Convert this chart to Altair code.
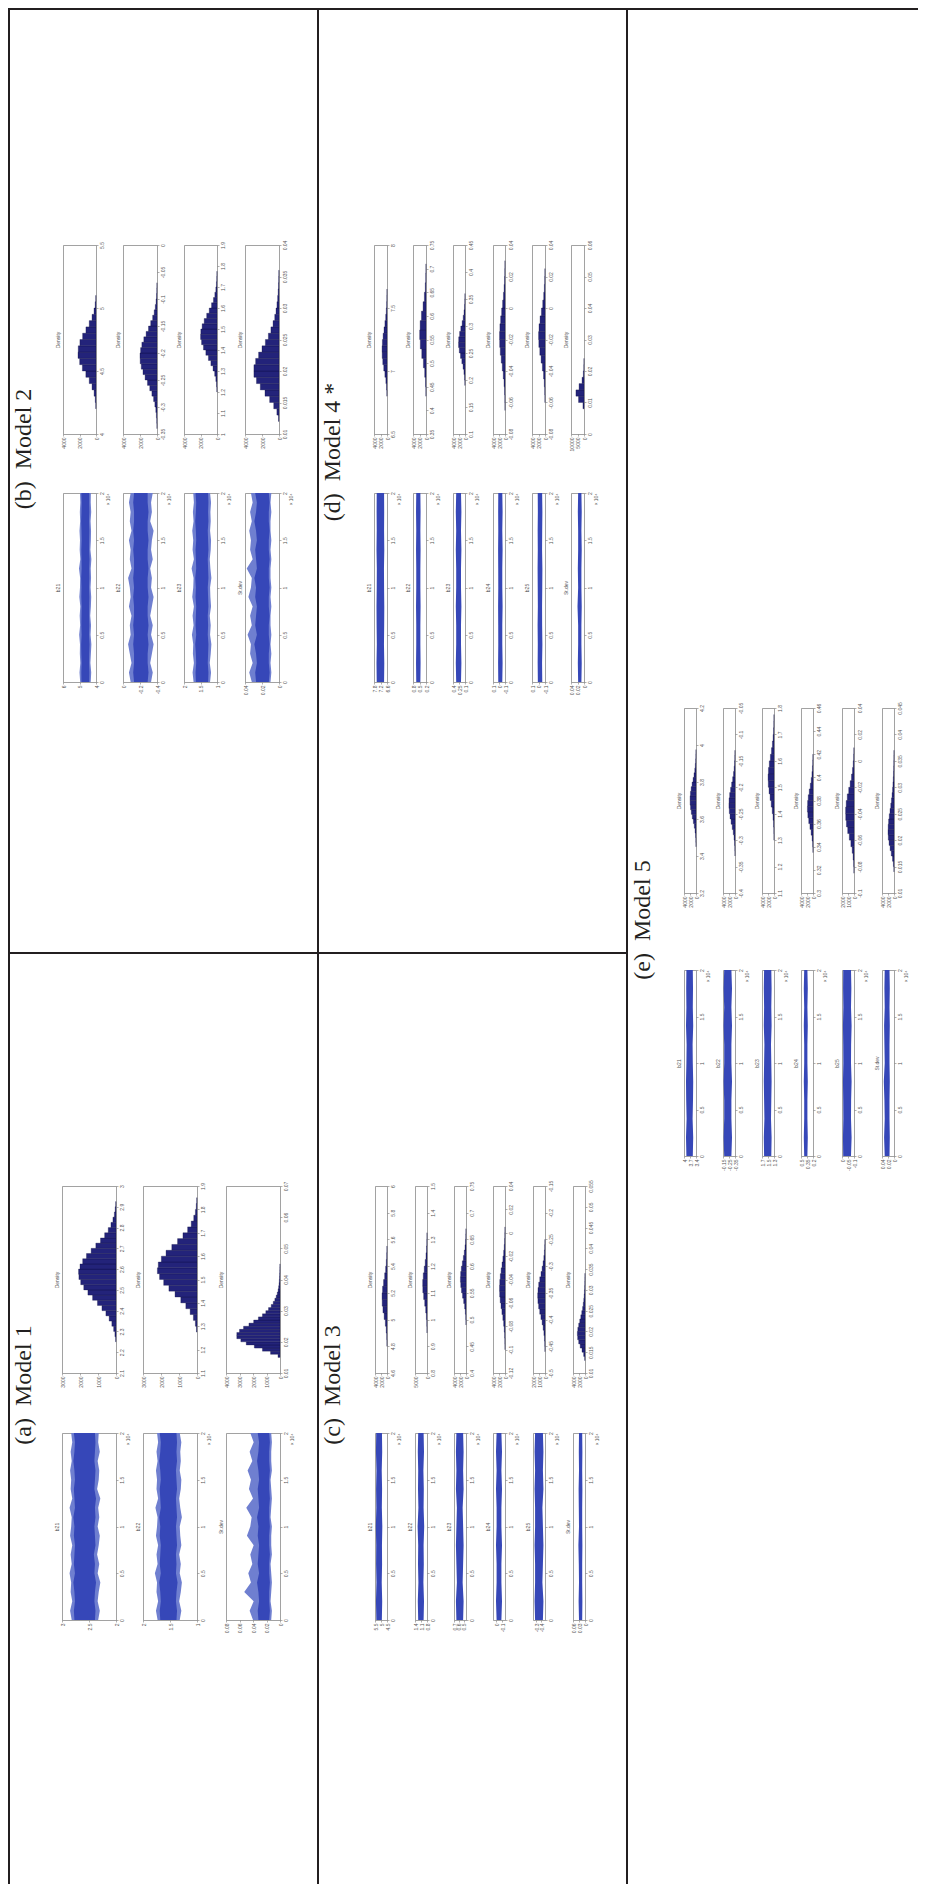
import altair as alt
import pandas as pd

OX, OY = 8, 8
W, H = 910, 1876

HIST_FILL = "#23237a"
HIST_EDGE = "#0b0b3a"
TRACE_IN = "#3647b8"
TRACE_OUT = "#6f7fd0"
LINE = "#231f20"

ITER21 = [0, 1000, 2000, 3000, 4000, 5000, 6000, 7000, 8000, 9000, 10000,
          11000, 12000, 13000, 14000, 15000, 16000, 17000, 18000, 19000, 20000]
ITER11 = [0, 2000, 4000, 6000, 8000, 10000, 12000, 14000, 16000, 18000, 20000]
ITER_TICKS = [0, 5000, 10000, 15000, 20000]

# ---------------- Model 1 ----------------
M1_B21_CNT = [20, 60, 130, 230, 380, 560, 780, 1030, 1300, 1560, 1790, 1960, 2060, 2080,
              2000, 1850, 1640, 1380, 1120, 860, 630, 430, 280, 170, 90, 45, 15]
M1_B22_CNT = [30, 90, 200, 380, 620, 900, 1220, 1560, 1850, 2080, 2200, 2150, 1980, 1720,
              1400, 1080, 780, 520, 320, 180, 90, 40, 15]
M1_SD_CNT = [150, 700, 1300, 1900, 2500, 2900, 3200, 3200, 3000, 2700, 2300, 1950, 1600, 1300,
             1050, 850, 650, 500, 380, 280, 200, 140, 100, 70, 50, 35, 25, 15, 10, 5]

M1_B21_LO_OUT = [2.33, 2.30, 2.34, 2.32, 2.29, 2.34, 2.31, 2.35, 2.32, 2.30, 2.34, 2.31, 2.33, 2.29, 2.35, 2.32, 2.31, 2.34, 2.30, 2.33, 2.32]
M1_B21_LO_IN = [2.39, 2.38, 2.40, 2.39, 2.37, 2.40, 2.39, 2.41, 2.38, 2.39, 2.40, 2.38, 2.39, 2.37, 2.40, 2.39, 2.38, 2.40, 2.39, 2.38, 2.39]
M1_B21_HI_IN = [2.77, 2.78, 2.76, 2.77, 2.79, 2.76, 2.78, 2.77, 2.76, 2.78, 2.77, 2.79, 2.76, 2.77, 2.78, 2.76, 2.77, 2.79, 2.77, 2.76, 2.78]
M1_B21_HI_OUT = [2.82, 2.85, 2.81, 2.84, 2.83, 2.86, 2.82, 2.84, 2.81, 2.85, 2.83, 2.82, 2.86, 2.81, 2.84, 2.83, 2.85, 2.82, 2.84, 2.81, 2.83]

M1_B22_LO_OUT = [1.32, 1.29, 1.33, 1.30, 1.28, 1.32, 1.30, 1.33, 1.29, 1.31, 1.32, 1.28, 1.31, 1.33, 1.30, 1.29, 1.32, 1.30, 1.31, 1.29, 1.32]
M1_B22_LO_IN = [1.38, 1.37, 1.39, 1.38, 1.36, 1.39, 1.38, 1.39, 1.37, 1.38, 1.39, 1.37, 1.38, 1.39, 1.37, 1.38, 1.39, 1.37, 1.38, 1.37, 1.38]
M1_B22_HI_IN = [1.68, 1.69, 1.67, 1.68, 1.70, 1.67, 1.69, 1.68, 1.67, 1.69, 1.68, 1.70, 1.67, 1.68, 1.69, 1.67, 1.68, 1.70, 1.68, 1.67, 1.69]
M1_B22_HI_OUT = [1.73, 1.76, 1.72, 1.75, 1.74, 1.78, 1.73, 1.75, 1.72, 1.76, 1.74, 1.73, 1.77, 1.72, 1.75, 1.74, 1.76, 1.73, 1.75, 1.72, 1.74]

M1_SD_LO_OUT = [0.013, 0.012, 0.014, 0.013, 0.012, 0.013, 0.014, 0.012, 0.013, 0.013, 0.012, 0.014, 0.013, 0.012, 0.013, 0.014, 0.012, 0.013, 0.013, 0.012, 0.013]
M1_SD_LO_IN = [0.016, 0.015, 0.016, 0.016, 0.015, 0.016, 0.016, 0.015, 0.016, 0.016, 0.015, 0.016, 0.016, 0.015, 0.016, 0.016, 0.015, 0.016, 0.016, 0.015, 0.016]
M1_SD_HI_IN = [0.032, 0.033, 0.031, 0.032, 0.034, 0.031, 0.033, 0.032, 0.031, 0.033, 0.032, 0.034, 0.031, 0.032, 0.033, 0.031, 0.032, 0.034, 0.032, 0.031, 0.033]
M1_SD_HI_OUT = [0.040, 0.045, 0.039, 0.053, 0.043, 0.047, 0.041, 0.044, 0.039, 0.049, 0.044, 0.042, 0.050, 0.040, 0.046, 0.043, 0.048, 0.041, 0.045, 0.039, 0.044]

# ---------------- Model 2 ----------------
M2_B21_CNT = [30, 90, 230, 480, 820, 1230, 1650, 1980, 2180, 2150, 1950, 1620, 1220, 820, 480, 240, 100, 30]
M2_B22_CNT = [10, 30, 70, 140, 250, 400, 600, 850, 1120, 1400, 1650, 1850, 1980, 2000, 1930, 1780,
              1550, 1280, 1000, 740, 510, 330, 200, 110, 55, 25, 10]
M2_B23_CNT = [20, 60, 140, 280, 480, 740, 1040, 1350, 1640, 1870, 1990, 1960, 1800, 1550, 1250,
              940, 660, 430, 260, 140, 70, 30, 10]
M2_SD_CNT = [60, 250, 620, 1100, 1650, 2200, 2650, 2950, 2950, 2750, 2400, 2000, 1600, 1250, 950,
             700, 500, 350, 240, 160, 100, 60, 35, 20]

M2_B21_LO_OUT = [4.32, 4.29, 4.34, 4.31, 4.28, 4.33, 4.30, 4.35, 4.31, 4.29, 4.33, 4.30, 4.32, 4.28, 4.34, 4.31, 4.30, 4.33, 4.29, 4.32, 4.31]
M2_B21_LO_IN = [4.41, 4.40, 4.42, 4.41, 4.39, 4.42, 4.40, 4.42, 4.41, 4.40, 4.42, 4.40, 4.41, 4.39, 4.42, 4.41, 4.40, 4.42, 4.40, 4.41, 4.41]
M2_B21_HI_IN = [4.88, 4.89, 4.87, 4.89, 4.90, 4.87, 4.89, 4.88, 4.87, 4.89, 4.88, 4.90, 4.87, 4.88, 4.89, 4.87, 4.88, 4.90, 4.88, 4.87, 4.89]
M2_B21_HI_OUT = [4.96, 5.00, 4.95, 4.98, 4.97, 5.02, 4.96, 4.99, 4.95, 5.01, 4.97, 4.96, 5.03, 4.95, 4.99, 4.97, 5.00, 4.96, 4.98, 4.95, 4.97]

M2_B22_LO_OUT = [-0.33, -0.35, -0.32, -0.34, -0.36, -0.33, -0.35, -0.32, -0.34, -0.36, -0.33, -0.34, -0.32, -0.35, -0.33, -0.34, -0.36, -0.32, -0.34, -0.33, -0.35]
M2_B22_LO_IN = [-0.29, -0.30, -0.29, -0.29, -0.30, -0.29, -0.30, -0.29, -0.29, -0.30, -0.29, -0.29, -0.30, -0.29, -0.29, -0.30, -0.29, -0.29, -0.30, -0.29, -0.29]
M2_B22_HI_IN = [-0.13, -0.12, -0.13, -0.13, -0.12, -0.13, -0.12, -0.13, -0.13, -0.12, -0.13, -0.12, -0.13, -0.13, -0.12, -0.13, -0.12, -0.13, -0.13, -0.12, -0.13]
M2_B22_HI_OUT = [-0.09, -0.07, -0.10, -0.08, -0.06, -0.09, -0.08, -0.10, -0.07, -0.09, -0.08, -0.06, -0.10, -0.08, -0.09, -0.07, -0.10, -0.08, -0.09, -0.07, -0.09]

M2_B23_LO_OUT = [1.21, 1.18, 1.22, 1.19, 1.17, 1.21, 1.19, 1.22, 1.18, 1.20, 1.21, 1.17, 1.20, 1.22, 1.19, 1.18, 1.21, 1.19, 1.20, 1.18, 1.21]
M2_B23_LO_IN = [1.27, 1.26, 1.28, 1.27, 1.26, 1.28, 1.27, 1.28, 1.26, 1.27, 1.28, 1.26, 1.27, 1.28, 1.26, 1.27, 1.28, 1.26, 1.27, 1.26, 1.27]
M2_B23_HI_IN = [1.64, 1.65, 1.63, 1.64, 1.66, 1.63, 1.65, 1.64, 1.63, 1.65, 1.64, 1.66, 1.63, 1.64, 1.65, 1.63, 1.64, 1.66, 1.64, 1.63, 1.65]
M2_B23_HI_OUT = [1.71, 1.74, 1.70, 1.73, 1.72, 1.76, 1.71, 1.74, 1.70, 1.75, 1.72, 1.71, 1.77, 1.70, 1.74, 1.72, 1.75, 1.71, 1.73, 1.70, 1.72]

M2_SD_LO_OUT = [0.010, 0.009, 0.010, 0.009, 0.010, 0.009, 0.010, 0.010, 0.009, 0.010, 0.009, 0.010, 0.010, 0.009, 0.010, 0.009, 0.010, 0.010, 0.009, 0.010, 0.009]
M2_SD_LO_IN = [0.012, 0.011, 0.012, 0.012, 0.011, 0.012, 0.012, 0.011, 0.012, 0.012, 0.011, 0.012, 0.012, 0.011, 0.012, 0.012, 0.011, 0.012, 0.012, 0.011, 0.012]
M2_SD_HI_IN = [0.027, 0.028, 0.026, 0.027, 0.029, 0.026, 0.028, 0.027, 0.026, 0.028, 0.027, 0.029, 0.026, 0.027, 0.028, 0.026, 0.027, 0.029, 0.027, 0.026, 0.028]
M2_SD_HI_OUT = [0.032, 0.035, 0.031, 0.034, 0.033, 0.037, 0.032, 0.034, 0.031, 0.036, 0.033, 0.032, 0.038, 0.031, 0.034, 0.033, 0.035, 0.032, 0.034, 0.031, 0.033]

# ---------------- Model 3 ----------------
M3_B21_CNT = [30, 100, 260, 550, 950, 1350, 1600, 1650, 1480, 1150, 780, 460, 230, 100, 35]
M3_B22_CNT = [30, 100, 260, 550, 950, 1400, 1750, 1800, 1550, 1150, 750, 420, 200, 80, 25]
M3_B23_CNT = [30, 90, 220, 450, 780, 1150, 1500, 1750, 1850, 1780, 1550, 1220, 880, 570, 330, 170, 75, 30]
M3_B24_CNT = [20, 50, 120, 250, 450, 720, 1030, 1340, 1600, 1780, 1830, 1750, 1560, 1290, 990, 700, 450, 260, 140, 65, 25]
M3_B25_CNT = [15, 40, 90, 180, 310, 480, 680, 880, 1060, 1180, 1220, 1170, 1050, 870, 670, 480, 320, 190, 100, 50, 20]
M3_SD_CNT = [100, 450, 1000, 1600, 2100, 2450, 2550, 2400, 2100, 1750, 1400, 1080, 800, 580, 410, 280, 190, 120, 75, 45, 25]

M3_B21_LO = [4.93, 4.90, 4.94, 4.91, 4.92, 4.89, 4.93, 4.91, 4.94, 4.90, 4.92]
M3_B21_HI = [5.39, 5.42, 5.38, 5.41, 5.40, 5.43, 5.39, 5.41, 5.38, 5.42, 5.40]
M3_B22_LO = [0.97, 0.95, 0.98, 0.96, 0.97, 0.94, 0.97, 0.96, 0.98, 0.95, 0.97]
M3_B22_HI = [1.24, 1.26, 1.23, 1.25, 1.24, 1.27, 1.23, 1.25, 1.24, 1.26, 1.24]
M3_B23_LO = [0.51, 0.50, 0.52, 0.51, 0.50, 0.51, 0.52, 0.50, 0.51, 0.50, 0.51]
M3_B23_HI = [0.65, 0.66, 0.64, 0.65, 0.66, 0.65, 0.64, 0.66, 0.65, 0.66, 0.65]
M3_B24_LO = [-0.09, -0.10, -0.09, -0.09, -0.10, -0.09, -0.09, -0.10, -0.09, -0.10, -0.09]
M3_B24_HI = [-0.01, 0.00, -0.01, -0.01, 0.00, -0.01, -0.01, 0.00, -0.01, 0.00, -0.01]
M3_B25_LO = [-0.43, -0.44, -0.42, -0.43, -0.44, -0.43, -0.42, -0.44, -0.43, -0.44, -0.43]
M3_B25_HI = [-0.28, -0.27, -0.28, -0.28, -0.27, -0.28, -0.28, -0.27, -0.28, -0.27, -0.28]
M3_SD_LO = [0.014, 0.013, 0.014, 0.014, 0.013, 0.014, 0.014, 0.013, 0.014, 0.013, 0.014]
M3_SD_HI = [0.030, 0.032, 0.030, 0.031, 0.033, 0.030, 0.031, 0.032, 0.030, 0.031, 0.030]

# ---------------- Model 4 ----------------
M4_B21_CNT = [50, 150, 350, 650, 1000, 1300, 1480, 1520, 1420, 1200, 920, 640, 400, 220, 110, 50, 20]
M4_B22_CNT = [40, 150, 400, 800, 1300, 1750, 1950, 1800, 1400, 900, 500, 220, 80, 25]
M4_B23_CNT = [50, 150, 350, 650, 1050, 1500, 1900, 2150, 2100, 1800, 1400, 950, 600, 330, 160, 70, 25]
M4_B24_CNT = [20, 60, 150, 320, 580, 900, 1250, 1560, 1780, 1820, 1700, 1450, 1120, 800, 520, 300, 160, 75, 30]
M4_B25_CNT = [30, 90, 220, 450, 800, 1200, 1600, 1900, 1980, 1850, 1520, 1100, 700, 400, 200, 90, 35]
M4_SD_CNT = [800, 4200, 6200, 3800, 1500, 500, 150, 40]

M4_B21_LO = [6.87, 6.85, 6.88, 6.86, 6.85, 6.87, 6.88, 6.85, 6.87, 6.86, 6.87]
M4_B21_HI = [7.55, 7.57, 7.54, 7.56, 7.57, 7.55, 7.54, 7.57, 7.55, 7.56, 7.55]
M4_B22_LO = [0.46, 0.45, 0.46, 0.46, 0.45, 0.46, 0.46, 0.45, 0.46, 0.45, 0.46]
M4_B22_HI = [0.65, 0.66, 0.65, 0.65, 0.66, 0.65, 0.65, 0.66, 0.65, 0.66, 0.65]
M4_B23_LO = [0.20, 0.19, 0.20, 0.20, 0.19, 0.20, 0.20, 0.19, 0.20, 0.19, 0.20]
M4_B23_HI = [0.32, 0.33, 0.32, 0.32, 0.33, 0.32, 0.32, 0.33, 0.32, 0.33, 0.32]
M4_B24_LO = [-0.055, -0.060, -0.055, -0.055, -0.060, -0.055, -0.055, -0.060, -0.055, -0.060, -0.055]
M4_B24_HI = [0.012, 0.015, 0.012, 0.013, 0.015, 0.012, 0.013, 0.015, 0.012, 0.014, 0.012]
M4_B25_LO = [-0.058, -0.055, -0.060, -0.056, -0.055, -0.058, -0.060, -0.055, -0.057, -0.060, -0.056]
M4_B25_HI = [0.010, 0.013, 0.011, 0.014, 0.010, 0.012, 0.014, 0.011, 0.013, 0.010, 0.012]
M4_SD_LO = [0.008, 0.007, 0.008, 0.008, 0.007, 0.008, 0.008, 0.007, 0.008, 0.007, 0.008]
M4_SD_HI = [0.018, 0.019, 0.018, 0.018, 0.020, 0.018, 0.019, 0.018, 0.018, 0.019, 0.018]

# ---------------- Model 5 ----------------
M5_B21_CNT = [20, 60, 150, 310, 560, 880, 1230, 1560, 1820, 1960, 1970, 1850, 1610, 1300, 970, 660, 410, 230, 115, 50, 20]
M5_B22_CNT = [20, 60, 150, 320, 580, 920, 1300, 1650, 1900, 2020, 1980, 1780, 1470, 1120, 780, 500, 290, 150, 70, 28]
M5_B23_CNT = [20, 60, 150, 320, 580, 920, 1300, 1650, 1900, 1980, 1850, 1570, 1200, 840, 530, 300, 150, 65, 25]
M5_B24_CNT = [30, 110, 300, 620, 1020, 1420, 1720, 1860, 1800, 1580, 1250, 900, 590, 350, 190, 90, 40]
M5_B25_CNT = [20, 60, 150, 300, 520, 780, 1050, 1260, 1380, 1400, 1300, 1120, 880, 640, 420, 250, 130, 60, 25]
M5_SD_CNT = [40, 200, 500, 900, 1300, 1650, 1900, 2000, 1950, 1800, 1580, 1330, 1080, 850, 650, 480, 350, 250, 170, 110, 70, 40, 20]

M5_B21_LO = [3.56, 3.54, 3.57, 3.55, 3.54, 3.56, 3.57, 3.54, 3.56, 3.55, 3.56]
M5_B21_HI = [3.88, 3.90, 3.87, 3.89, 3.90, 3.88, 3.87, 3.90, 3.88, 3.89, 3.88]
M5_B22_LO = [-0.29, -0.30, -0.29, -0.29, -0.30, -0.29, -0.29, -0.30, -0.29, -0.30, -0.29]
M5_B22_HI = [-0.17, -0.16, -0.17, -0.17, -0.16, -0.17, -0.17, -0.16, -0.17, -0.16, -0.17]
M5_B23_LO = [1.39, 1.38, 1.40, 1.39, 1.38, 1.39, 1.40, 1.38, 1.39, 1.38, 1.39]
M5_B23_HI = [1.63, 1.64, 1.62, 1.63, 1.64, 1.63, 1.62, 1.64, 1.63, 1.64, 1.63]
M5_B24_LO = [0.34, 0.33, 0.34, 0.34, 0.33, 0.34, 0.34, 0.33, 0.34, 0.33, 0.34]
M5_B24_HI = [0.42, 0.43, 0.42, 0.42, 0.43, 0.42, 0.42, 0.43, 0.42, 0.43, 0.42]
M5_B25_LO = [-0.075, -0.080, -0.075, -0.076, -0.080, -0.075, -0.076, -0.080, -0.075, -0.078, -0.075]
M5_B25_HI = [-0.010, -0.008, -0.011, -0.010, -0.008, -0.011, -0.010, -0.008, -0.011, -0.009, -0.010]
M5_SD_LO = [0.015, 0.014, 0.015, 0.015, 0.014, 0.015, 0.015, 0.014, 0.015, 0.014, 0.015]
M5_SD_HI = [0.031, 0.033, 0.031, 0.032, 0.034, 0.031, 0.032, 0.033, 0.031, 0.032, 0.031]

MODEL_LABELS = ["(a)\u00a0\u00a0Model\u00a01", "(b)\u00a0\u00a0Model\u00a02", "(c)\u00a0\u00a0Model\u00a03",
                "(d)\u00a0\u00a0Model\u00a04\u00a0*", "(e)\u00a0\u00a0Model\u00a05"]

ONE = pd.DataFrame({"k": [0]})
NUM = "'' + datum.value"


def hist_layers(bx, by, xdom, xticks, ydom, yticks, start, step, counts):
    x0, x1 = bx
    y0, y1 = by
    lo = [start + i * step for i in range(len(counts))]
    df = pd.DataFrame({"lo": lo, "hi": [v + step for v in lo], "n": counts})

    def xs():
        return alt.Scale(domain=xdom, range=[x1 - OX, x0 - OX], nice=False, zero=False)

    def ys():
        return alt.Scale(domain=ydom, range=[y1 - OY, y0 - OY], nice=False, zero=False)

    bars = alt.Chart(df).mark_rect(fill=HIST_FILL, stroke=HIST_EDGE, strokeWidth=0.3).encode(
        x=alt.X("n:Q", scale=xs(), axis=alt.Axis(orient="bottom", offset=(y1 - OY) - H, values=xticks,
                                                 labelExpr=NUM, labelAngle=270, labelAlign="right",
                                                 labelBaseline="middle", title=None)),
        x2=alt.datum(0),
        y=alt.Y("lo:Q", scale=ys(), axis=alt.Axis(orient="right", offset=(x1 - OX) - W, values=yticks,
                                                  labelExpr=NUM, labelAngle=270, labelAlign="center",
                                                  labelBaseline="top", title=None)),
        y2="hi:Q",
    )
    frame = alt.Chart(df).mark_point(opacity=0).encode(
        x=alt.X("n:Q", scale=xs(), axis=alt.Axis(orient="top", offset=-(y0 - OY), labels=False,
                                                 ticks=False, title=None)),
        y=alt.Y("lo:Q", scale=ys(), axis=alt.Axis(orient="left", offset=-(x0 - OX), labels=False,
                                                  ticks=False, title="Density")),
    )
    return [bars, frame]


def trace_layers(title, bx, by, xdom, xticks, iters, lo_in, hi_in, lo_out=None, hi_out=None):
    x0, x1 = bx
    y0, y1 = by
    data = {"it": iters, "li": lo_in, "hi": hi_in}
    if lo_out is not None:
        data["lo2"] = lo_out
        data["hi2"] = hi_out
    df = pd.DataFrame(data)

    def xs():
        return alt.Scale(domain=xdom, range=[x1 - OX, x0 - OX], nice=False, zero=False)

    def ys():
        return alt.Scale(domain=[0, 20000], range=[y1 - OY, y0 - OY], nice=False, zero=False)

    ax_x = alt.Axis(orient="bottom", offset=(y1 - OY) - H, values=xticks, labelExpr=NUM, labelAngle=270,
                    labelAlign="right", labelBaseline="middle", title=None)
    ax_y = alt.Axis(orient="right", offset=(x1 - OX) - W, values=ITER_TICKS,
                    labelExpr="'' + datum.value / 10000", labelAngle=270, labelAlign="center",
                    labelBaseline="top", title="\u00d7\u200910\u2074", titleAngle=270, titleAnchor="end",
                    titleBaseline="top", titlePadding=1)
    layers = []
    if lo_out is not None:
        layers.append(alt.Chart(df).mark_area(orient="horizontal", color=TRACE_OUT).encode(
            x=alt.X("lo2:Q", scale=xs(), axis=ax_x), x2="hi2:Q",
            y=alt.Y("it:Q", scale=ys(), axis=ax_y)))
        layers.append(alt.Chart(df).mark_area(orient="horizontal", color=TRACE_IN).encode(
            x=alt.X("li:Q", scale=xs(), axis=None), x2="hi:Q",
            y=alt.Y("it:Q", scale=ys(), axis=None)))
    else:
        layers.append(alt.Chart(df).mark_area(orient="horizontal", color=TRACE_IN).encode(
            x=alt.X("li:Q", scale=xs(), axis=ax_x), x2="hi:Q",
            y=alt.Y("it:Q", scale=ys(), axis=ax_y)))
    layers.append(alt.Chart(df).mark_point(opacity=0).encode(
        x=alt.X("li:Q", scale=xs(), axis=alt.Axis(orient="top", offset=-(y0 - OY), labels=False,
                                                  ticks=False, title=None)),
        y=alt.Y("it:Q", scale=ys(), axis=alt.Axis(orient="left", offset=-(x0 - OX), labels=False,
                                                  ticks=False, title=title))))
    return layers


def label(text, x, y):
    return alt.Chart(ONE).mark_text(text=text, angle=270, font="Liberation Serif", fontSize=24,
                                    align="center", baseline="alphabetic", color=LINE).encode(
        x=alt.value(x - OX), y=alt.value(y - OY))


def vrule(x, ya, yb):
    return alt.Chart(ONE).mark_rule(color=LINE, strokeWidth=2).encode(
        x=alt.value(x - OX), y=alt.value(ya - OY), y2=alt.value(yb - OY))


def hrule(y, xa, xb):
    return alt.Chart(ONE).mark_rule(color=LINE, strokeWidth=2).encode(
        y=alt.value(y - OY), x=alt.value(xa - OX), x2=alt.value(xb - OX))


layers = []

# table lines
layers += [hrule(9, 8, 918), vrule(9, 8, 1884), vrule(318, 8, 1884), vrule(627, 8, 1884), hrule(953, 8, 627)]

# ---- Model 1 (bottom-left cell) ----
M1_X = [(62, 116), (143, 197), (226, 280)]
M1_HY = (1186, 1373)
M1_TY = (1433, 1620)
layers += hist_layers(M1_X[0], M1_HY, [0, 3000], [0, 1000, 2000, 3000], [2.1, 3.0],
                      [2.1, 2.2, 2.3, 2.4, 2.5, 2.6, 2.7, 2.8, 2.9, 3.0], 2.25, 0.025, M1_B21_CNT)
layers += hist_layers(M1_X[1], M1_HY, [0, 3000], [0, 1000, 2000, 3000], [1.1, 1.9],
                      [1.1, 1.2, 1.3, 1.4, 1.5, 1.6, 1.7, 1.8, 1.9], 1.275, 0.025, M1_B22_CNT)
layers += hist_layers(M1_X[2], M1_HY, [0, 4000], [0, 1000, 2000, 3000, 4000], [0.01, 0.07],
                      [0.01, 0.02, 0.03, 0.04, 0.05, 0.06, 0.07], 0.015, 0.001, M1_SD_CNT)
layers += trace_layers("b21", M1_X[0], M1_TY, [2, 3], [2, 2.5, 3], ITER21,
                       M1_B21_LO_IN, M1_B21_HI_IN, M1_B21_LO_OUT, M1_B21_HI_OUT)
layers += trace_layers("b22", M1_X[1], M1_TY, [1, 2], [1, 1.5, 2], ITER21,
                       M1_B22_LO_IN, M1_B22_HI_IN, M1_B22_LO_OUT, M1_B22_HI_OUT)
layers += trace_layers("St.dev", M1_X[2], M1_TY, [0, 0.08], [0, 0.02, 0.04, 0.06, 0.08], ITER21,
                       M1_SD_LO_IN, M1_SD_HI_IN, M1_SD_LO_OUT, M1_SD_HI_OUT)
layers.append(label(MODEL_LABELS[0], 31, 1385))

# ---- Model 2 (top-left cell) ----
M2_X = [(63, 96), (123, 157), (184, 217), (245, 279)]
M2_HY = (245, 434)
M2_TY = (493, 682)
layers += hist_layers(M2_X[0], M2_HY, [0, 4000], [0, 2000, 4000], [4, 5.5], [4, 4.5, 5, 5.5],
                      4.2, 0.05, M2_B21_CNT)
layers += hist_layers(M2_X[1], M2_HY, [0, 4000], [0, 2000, 4000], [-0.35, 0],
                      [-0.35, -0.3, -0.25, -0.2, -0.15, -0.1, -0.05, 0], -0.34, 0.01, M2_B22_CNT)
layers += hist_layers(M2_X[2], M2_HY, [0, 4000], [0, 2000, 4000], [1, 1.9],
                      [1, 1.1, 1.2, 1.3, 1.4, 1.5, 1.6, 1.7, 1.8, 1.9], 1.2, 0.025, M2_B23_CNT)
layers += hist_layers(M2_X[3], M2_HY, [0, 4000], [0, 2000, 4000], [0.01, 0.04],
                      [0.01, 0.015, 0.02, 0.025, 0.03, 0.035, 0.04], 0.012, 0.001, M2_SD_CNT)
layers += trace_layers("b21", M2_X[0], M2_TY, [4, 6], [4, 5, 6], ITER21,
                       M2_B21_LO_IN, M2_B21_HI_IN, M2_B21_LO_OUT, M2_B21_HI_OUT)
layers += trace_layers("b22", M2_X[1], M2_TY, [-0.4, 0], [-0.4, -0.2, 0], ITER21,
                       M2_B22_LO_IN, M2_B22_HI_IN, M2_B22_LO_OUT, M2_B22_HI_OUT)
layers += trace_layers("b23", M2_X[2], M2_TY, [1, 2], [1, 1.5, 2], ITER21,
                       M2_B23_LO_IN, M2_B23_HI_IN, M2_B23_LO_OUT, M2_B23_HI_OUT)
layers += trace_layers("St.dev", M2_X[3], M2_TY, [0, 0.04], [0, 0.02, 0.04], ITER21,
                       M2_SD_LO_IN, M2_SD_HI_IN, M2_SD_LO_OUT, M2_SD_HI_OUT)
layers.append(label(MODEL_LABELS[1], 31, 449))

# ---- Model 3 (bottom-middle cell) ----
M3_X = [(375, 387), (415, 427), (454, 466), (493, 505), (533, 545), (573, 585)]
M3_HY = (1186, 1373)
M3_TY = (1433, 1620)
layers += hist_layers(M3_X[0], M3_HY, [0, 4000], [0, 2000, 4000], [4.6, 6],
                      [4.6, 4.8, 5, 5.2, 5.4, 5.6, 5.8, 6], 4.8, 0.05, M3_B21_CNT)
layers += hist_layers(M3_X[1], M3_HY, [0, 5000], [0, 5000], [0.8, 1.5],
                      [0.8, 0.9, 1, 1.1, 1.2, 1.3, 1.4, 1.5], 0.95, 0.025, M3_B22_CNT)
layers += hist_layers(M3_X[2], M3_HY, [0, 4000], [0, 2000, 4000], [0.4, 0.75],
                      [0.4, 0.45, 0.5, 0.55, 0.6, 0.65, 0.7, 0.75], 0.49, 0.01, M3_B23_CNT)
layers += hist_layers(M3_X[3], M3_HY, [0, 4000], [0, 2000, 4000], [-0.12, 0.04],
                      [-0.12, -0.1, -0.08, -0.06, -0.04, -0.02, 0, 0.02, 0.04], -0.10, 0.005, M3_B24_CNT)
layers += hist_layers(M3_X[4], M3_HY, [0, 2000], [0, 1000, 2000], [-0.5, -0.15],
                      [-0.5, -0.45, -0.4, -0.35, -0.3, -0.25, -0.2, -0.15], -0.46, 0.01, M3_B25_CNT)
layers += hist_layers(M3_X[5], M3_HY, [0, 4000], [0, 2000, 4000], [0.01, 0.055],
                      [0.01, 0.015, 0.02, 0.025, 0.03, 0.035, 0.04, 0.045, 0.05, 0.055], 0.013, 0.001, M3_SD_CNT)
layers += trace_layers("b21", M3_X[0], M3_TY, [4.5, 5.5], [4.5, 5, 5.5], ITER11, M3_B21_LO, M3_B21_HI)
layers += trace_layers("b22", M3_X[1], M3_TY, [0.8, 1.4], [0.8, 1.1, 1.4], ITER11, M3_B22_LO, M3_B22_HI)
layers += trace_layers("b23", M3_X[2], M3_TY, [0.45, 0.7], [0.5, 0.6, 0.7], ITER11, M3_B23_LO, M3_B23_HI)
layers += trace_layers("b24", M3_X[3], M3_TY, [-0.15, 0.05], [-0.1, 0], ITER11, M3_B24_LO, M3_B24_HI)
layers += trace_layers("b25", M3_X[4], M3_TY, [-0.47, -0.24], [-0.4, -0.3], ITER11, M3_B25_LO, M3_B25_HI)
layers += trace_layers("St.dev", M3_X[5], M3_TY, [0, 0.06], [0, 0.03, 0.06], ITER11, M3_SD_LO, M3_SD_HI)
layers.append(label(MODEL_LABELS[2], 340, 1385))

# ---- Model 4 (top-middle cell) ----
M4_X = [(374, 387), (413, 426), (453, 465), (493, 505), (532, 545), (571, 584)]
M4_HY = (245, 434)
M4_TY = (493, 682)
layers += hist_layers(M4_X[0], M4_HY, [0, 4000], [0, 2000, 4000], [6.5, 8], [6.5, 7, 7.5, 8],
                      6.8, 0.05, M4_B21_CNT)
layers += hist_layers(M4_X[1], M4_HY, [0, 4000], [0, 2000, 4000], [0.35, 0.75],
                      [0.35, 0.4, 0.45, 0.5, 0.55, 0.6, 0.65, 0.7, 0.75], 0.43, 0.02, M4_B22_CNT)
layers += hist_layers(M4_X[2], M4_HY, [0, 4000], [0, 2000, 4000], [0.1, 0.45],
                      [0.1, 0.15, 0.2, 0.25, 0.3, 0.35, 0.4, 0.45], 0.19, 0.01, M4_B23_CNT)
layers += hist_layers(M4_X[3], M4_HY, [0, 4000], [0, 2000, 4000], [-0.08, 0.04],
                      [-0.08, -0.06, -0.04, -0.02, 0, 0.02, 0.04], -0.065, 0.005, M4_B24_CNT)
layers += hist_layers(M4_X[4], M4_HY, [0, 4000], [0, 2000, 4000], [-0.08, 0.04],
                      [-0.08, -0.06, -0.04, -0.02, 0, 0.02, 0.04], -0.06, 0.005, M4_B25_CNT)
layers += hist_layers(M4_X[5], M4_HY, [0, 10000], [0, 5000, 10000], [0, 0.06],
                      [0, 0.01, 0.02, 0.03, 0.04, 0.05, 0.06], 0.008, 0.002, M4_SD_CNT)
layers += trace_layers("b21", M4_X[0], M4_TY, [6.6, 7.8], [6.6, 7.2, 7.8], ITER11, M4_B21_LO, M4_B21_HI)
layers += trace_layers("b22", M4_X[1], M4_TY, [0.2, 0.8], [0.2, 0.5, 0.8], ITER11, M4_B22_LO, M4_B22_HI)
layers += trace_layers("b23", M4_X[2], M4_TY, [0.1, 0.4], [0.1, 0.25, 0.4], ITER11, M4_B23_LO, M4_B23_HI)
layers += trace_layers("b24", M4_X[3], M4_TY, [-0.1, 0.1], [-0.1, 0, 0.1], ITER11, M4_B24_LO, M4_B24_HI)
layers += trace_layers("b25", M4_X[4], M4_TY, [-0.1, 0.1], [-0.1, 0, 0.1], ITER11, M4_B25_LO, M4_B25_HI)
layers += trace_layers("St.dev", M4_X[5], M4_TY, [0, 0.04], [0, 0.02, 0.04], ITER11, M4_SD_LO, M4_SD_HI)
layers.append(label(MODEL_LABELS[3], 340, 452))

# ---- Model 5 (right cell) ----
M5_X = [(684, 696), (723, 735), (762, 774), (801, 813), (842, 854), (882, 894)]
M5_HY = (708, 893)
M5_TY = (970, 1156)
layers += hist_layers(M5_X[0], M5_HY, [0, 4000], [0, 2000, 4000], [3.2, 4.2],
                      [3.2, 3.4, 3.6, 3.8, 4, 4.2], 3.45, 0.025, M5_B21_CNT)
layers += hist_layers(M5_X[1], M5_HY, [0, 4000], [0, 2000, 4000], [-0.4, -0.05],
                      [-0.4, -0.35, -0.3, -0.25, -0.2, -0.15, -0.1, -0.05], -0.33, 0.01, M5_B22_CNT)
layers += hist_layers(M5_X[2], M5_HY, [0, 4000], [0, 2000, 4000], [1.1, 1.8],
                      [1.1, 1.2, 1.3, 1.4, 1.5, 1.6, 1.7, 1.8], 1.3, 0.025, M5_B23_CNT)
layers += hist_layers(M5_X[3], M5_HY, [0, 4000], [0, 2000, 4000], [0.3, 0.46],
                      [0.3, 0.32, 0.34, 0.36, 0.38, 0.4, 0.42, 0.44, 0.46], 0.335, 0.005, M5_B24_CNT)
layers += hist_layers(M5_X[4], M5_HY, [0, 2000], [0, 1000, 2000], [-0.1, 0.04],
                      [-0.1, -0.08, -0.06, -0.04, -0.02, 0, 0.02, 0.04], -0.085, 0.005, M5_B25_CNT)
layers += hist_layers(M5_X[5], M5_HY, [0, 4000], [0, 2000, 4000], [0.01, 0.045],
                      [0.01, 0.015, 0.02, 0.025, 0.03, 0.035, 0.04, 0.045], 0.014, 0.001, M5_SD_CNT)
layers += trace_layers("b21", M5_X[0], M5_TY, [3.4, 4.0], [3.4, 3.7, 4.0], ITER11, M5_B21_LO, M5_B21_HI)
layers += trace_layers("b22", M5_X[1], M5_TY, [-0.35, -0.15], [-0.35, -0.25, -0.15], ITER11, M5_B22_LO, M5_B22_HI)
layers += trace_layers("b23", M5_X[2], M5_TY, [1.3, 1.7], [1.3, 1.5, 1.7], ITER11, M5_B23_LO, M5_B23_HI)
layers += trace_layers("b24", M5_X[3], M5_TY, [0.2, 0.5], [0.2, 0.35, 0.5], ITER11, M5_B24_LO, M5_B24_HI)
layers += trace_layers("b25", M5_X[4], M5_TY, [-0.1, 0], [-0.1, -0.05, 0], ITER11, M5_B25_LO, M5_B25_HI)
layers += trace_layers("St.dev", M5_X[5], M5_TY, [0, 0.04], [0, 0.02, 0.04], ITER11, M5_SD_LO, M5_SD_HI)
layers.append(label(MODEL_LABELS[4], 650, 920))

chart = alt.layer(*layers).resolve_scale(x="independent", y="independent").properties(
    width=W, height=H, padding=0, autosize=alt.AutoSizeParams(type="none"), background="white"
).configure_view(stroke=None).configure_axis(
    labelFont="Liberation Sans", labelFontSize=5, labelColor="#555555", labelPadding=1,
    labelOverlap=False, labelFlush=False, domainColor="#7a7a7a", domainWidth=0.7,
    tickColor="#7a7a7a", tickSize=2, tickWidth=0.6, grid=False, minExtent=0, maxExtent=200,
    titleFont="Liberation Sans", titleFontSize=5, titleFontWeight="normal", titleColor="#555555",
    titlePadding=3,
)

chart.save("out.html", embed_options={"renderer": "svg", "actions": False})
